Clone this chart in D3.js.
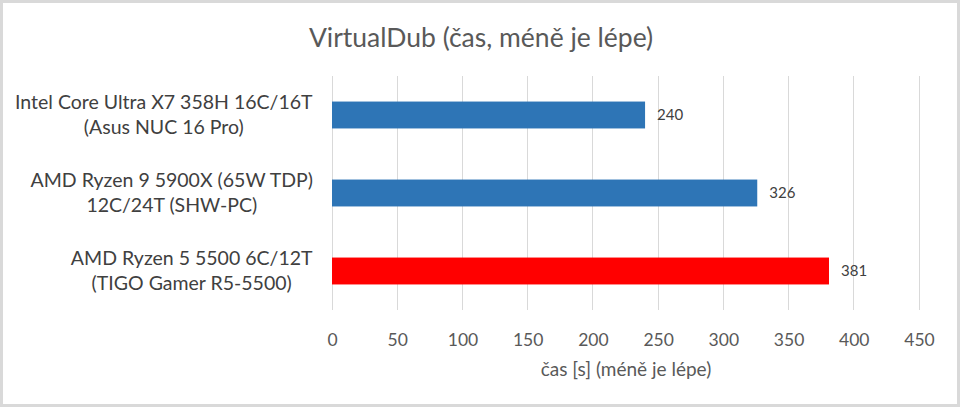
<!DOCTYPE html>
<html><head><meta charset="utf-8">
<script src="https://cdn.jsdelivr.net/npm/d3@7"></script>
<style>html,body{margin:0;padding:0;background:#fff;}svg{display:block;}</style>
</head><body>
<svg id="c" width="960" height="407"></svg>
<script>
const categories = [
  ["Intel Core Ultra X7 358H 16C/16T", "(Asus NUC 16 Pro)"],
  ["AMD Ryzen 9 5900X (65W TDP)", "12C/24T (SHW-PC)"],
  ["AMD Ryzen 5 5500 6C/12T", "(TIGO Gamer R5-5500)"]
];
const values = [240, 326, 381];
const barColors = ["#2E75B6", "#2E75B6", "#FF0000"];
const tickValues = [0, 50, 100, 150, 200, 250, 300, 350, 400, 450];
const title = "VirtualDub (čas, méně je lépe)";
const xTitle = "čas [s] (méně je lépe)";

const font = "Lato, 'Open Sans', sans-serif";
const svg = d3.select("#c");
svg.append("rect").attr("x", 1.5).attr("y", 1.5).attr("width", 957).attr("height", 404)
  .attr("fill", "#fff").attr("stroke", "#d9d9d9").attr("stroke-width", 3);

const m = {left: 332, right: 919, top: 76, bottom: 310};
const x = d3.scaleLinear().domain([0, 450]).range([m.left, m.right]);
const y = d3.scaleBand().domain(d3.range(categories.length)).range([m.top, m.bottom]).paddingInner(0.655).paddingOuter(0.3275);

// gridlines
svg.append("g").selectAll("line").data(tickValues).join("line")
  .attr("x1", d => x(d)).attr("x2", d => x(d)).attr("y1", m.top).attr("y2", m.bottom)
  .attr("stroke", "#d9d9d9").attr("stroke-width", 1).attr("shape-rendering", "crispEdges");

// x axis labels
const xAxis = d3.axisBottom(x).tickValues(tickValues).tickSize(0).tickPadding(0);
const gx = svg.append("g").attr("transform", `translate(0,${m.bottom + 22})`).call(xAxis);
gx.select(".domain").remove();
gx.selectAll("text").attr("font-family", font).attr("font-size", 17.5).attr("fill", "#595959").attr("dy", "0.35em").attr("y", 8);

// bars
svg.append("g").selectAll("rect").data(values).join("rect")
  .attr("x", x(0)).attr("y", (d, i) => y(i)).attr("width", d => x(d) - x(0)).attr("height", y.bandwidth())
  .attr("fill", (d, i) => barColors[i]);

// value labels
svg.append("g").selectAll("text").data(values).join("text")
  .attr("x", d => x(d) + 12).attr("y", (d, i) => y(i) + y.bandwidth() / 2).attr("dy", "0.35em")
  .attr("font-family", font).attr("font-size", 15).attr("fill", "#404040").text(d => d);

// category labels
const yAxis = d3.axisLeft(y).tickSize(0).tickPadding(20).tickFormat("");
const gy = svg.append("g").attr("transform", `translate(${m.left},0)`).call(yAxis);
gy.select(".domain").remove();
gy.selectAll(".tick").each(function(d) {
  const t = d3.select(this).append("text").attr("class", "catlabel").attr("text-anchor", "middle")
    .attr("font-family", font).attr("font-size", 19.5).attr("fill", "#404040");
  const lines = categories[d];
  lines.forEach((ln, k) => {
    t.append("tspan").attr("x", 0).attr("y", (k - 0.5) * 25).attr("dy", "0.35em").text(ln);
  });
  const bb = t.node().getBBox();
  const shift = (-19) - (bb.x + bb.width);
  t.attr("transform", `translate(${shift},0)`);
});

svg.append("text").attr("x", 481).attr("y", 38).attr("dy", "0.35em").attr("text-anchor", "middle")
  .attr("font-family", font).attr("font-size", 26.5).attr("fill", "#595959").text(title);
svg.append("text").attr("x", 626).attr("y", 369).attr("dy", "0.35em").attr("text-anchor", "middle")
  .attr("font-family", font).attr("font-size", 19).attr("fill", "#595959").text(xTitle);
</script>
</body></html>
